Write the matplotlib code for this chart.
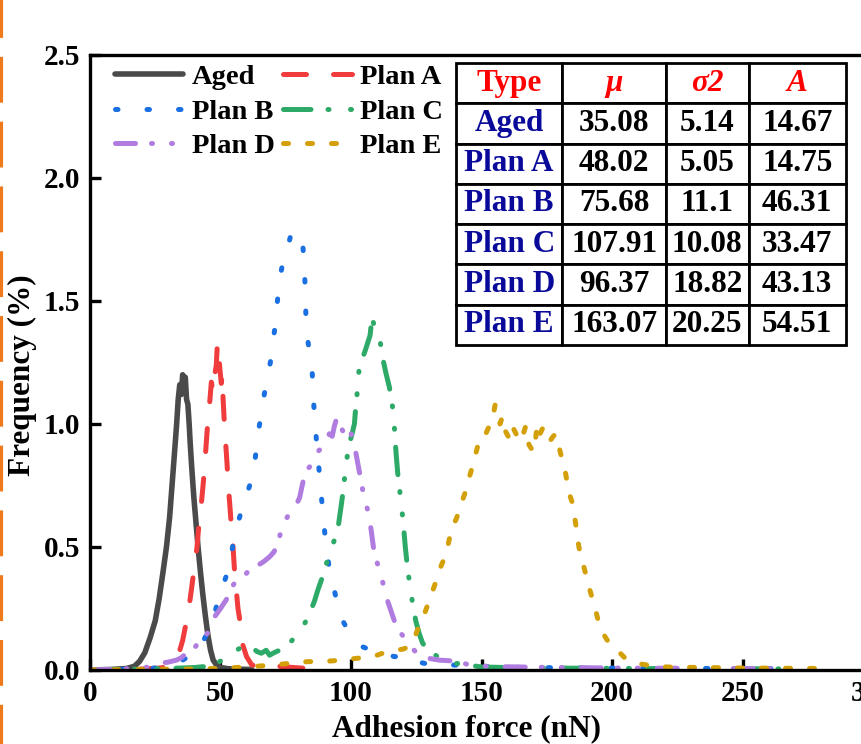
import numpy as np
import matplotlib
matplotlib.use("Agg")
import matplotlib.pyplot as plt
from matplotlib.lines import Line2D

plt.rcParams['font.family'] = ['Liberation Serif', 'DejaVu Serif']
plt.rcParams['font.weight'] = 'bold'
plt.rcParams['axes.labelweight'] = 'bold'

#------------------------------------------------------------------------------
# data (force in nN, frequency in %)
aged_x = [0, 8, 14, 17, 19, 21, 23, 25, 26.5, 28, 29.3, 30.5, 31.5, 32.5, 33.2, 33.8, 34.4, 35.0, 35.5, 36.0,
          36.5, 37.0, 37.5, 38.0, 38.4, 39.0, 39.8, 40.6, 41.4, 42.3, 43.2, 44.2, 45.2, 46.2, 47.2, 48.5, 50, 53, 57, 62]
aged_y = [0, 0.002, 0.006, 0.015, 0.035, 0.07, 0.13, 0.2, 0.29, 0.4, 0.5, 0.62, 0.76, 0.9, 1.0, 1.1, 1.16, 1.12, 1.2, 1.15,
          1.19, 1.1, 1.08, 1.0, 0.92, 0.82, 0.7, 0.6, 0.5, 0.4, 0.31, 0.22, 0.14, 0.08, 0.04, 0.02, 0.01, 0.005, 0.003, 0.002]

planA_x = [0, 10, 20, 27, 30, 32.5, 34.4, 35.5, 37, 38, 38.9, 40, 41, 41.8, 42.7, 43.4, 44, 44.6, 45.2, 45.8,
           46.5, 47.2, 47.8, 48.4, 48.8, 49.3, 49.8, 50.3, 50.7, 51, 51.5, 52, 52.5, 52.9, 53.5, 54.2, 54.8, 55.4, 56, 56.7,
           57.6, 58.6, 60, 62, 66, 72, 78, 85]
planA_y = [0, 0.002, 0.004, 0.008, 0.015, 0.03, 0.08, 0.12, 0.2, 0.26, 0.33, 0.42, 0.5, 0.6, 0.68, 0.76, 0.84, 0.93, 1.02, 1.08,
           1.17, 1.13, 1.2, 1.24, 1.33, 1.28, 1.22, 1.165, 1.2, 1.1, 1.0, 0.92, 0.84, 0.76, 0.68, 0.58, 0.5, 0.4, 0.33, 0.25,
           0.19, 0.1, 0.054, 0.02, 0.012, 0.015, 0.01, 0.005]

planB_x = [0, 10, 20, 25, 30, 34, 37, 40.8, 44, 47.1, 49.4, 51.5, 53.1, 54.8, 57, 59, 61.5, 63.1, 64.3, 65.6,
           66.3, 67.5, 69.1, 70.7, 72, 72.6, 74.5, 75.8, 77.1, 78.5, 80.3, 81.5, 82.2, 82.6, 82.8, 84.1, 85.1, 85.6, 86.3, 87.3,
           88.2, 89.2, 90.2, 91.7, 93.7, 95.8, 99.1, 104.2, 108, 111.5, 116.6, 121.7, 125, 128, 135, 144, 155, 170, 190, 210,
           230, 250, 270]
planB_y = [0, 0.002, 0.004, 0.008, 0.015, 0.03, 0.05, 0.07, 0.13, 0.2, 0.3, 0.36, 0.41, 0.51, 0.61, 0.68, 0.76, 0.84, 0.955, 1.04,
           1.09, 1.165, 1.25, 1.38, 1.52, 1.585, 1.69, 1.72, 1.775, 1.76, 1.77, 1.735, 1.62, 1.5, 1.39, 1.29, 1.22, 1.1, 0.99, 0.87,
           0.76, 0.64, 0.53, 0.41, 0.32, 0.22, 0.156, 0.095, 0.08, 0.075, 0.054, 0.06, 0.035, 0.027, 0.02, 0.02, 0.012, 0.01, 0.008, 0.007,
           0.006, 0.006, 0.005]

planC_x = [0, 10, 20, 30, 40, 45, 49.7, 53.5, 56, 58.6, 60.5, 62.4, 64, 65.6, 67.5, 68.8, 70.1, 71.5, 72.6, 74.5,
           76.5, 78.7, 80.9, 82.8, 84.7, 86, 87.3, 88.8, 90.5, 92, 93.7, 94.8, 95.6, 96.4, 97.2, 98.1, 99.4, 100.4, 101.3, 101.9,
           102.6, 103.2, 104.5, 105.5, 106.4, 107.3, 108.1, 108.8, 109.6, 110.9, 112.1, 113.4, 114.7, 115.9, 116.6, 117.2, 117.9, 119.1, 120, 120.8,
           121.7, 122.5, 123.4, 124.8, 126.1, 127.4, 129, 131.2, 133.8, 136.4, 140.2, 145, 150, 160, 175, 190, 210, 230, 250, 270]
planC_y = [0, 0.002, 0.004, 0.006, 0.01, 0.015, 0.034, 0.06, 0.08, 0.095, 0.09, 0.088, 0.075, 0.068, 0.08, 0.06, 0.068, 0.075, 0.08, 0.095,
           0.11, 0.135, 0.163, 0.2, 0.244, 0.28, 0.325, 0.37, 0.43, 0.48, 0.53, 0.56, 0.62, 0.68, 0.745, 0.84, 0.92, 0.96, 1.0, 1.08,
           1.15, 1.24, 1.27, 1.3, 1.33, 1.36, 1.436, 1.4, 1.38, 1.355, 1.27, 1.206, 1.15, 1.07, 0.99, 0.89, 0.8, 0.69, 0.6, 0.5,
           0.41, 0.35, 0.285, 0.2, 0.149, 0.11, 0.085, 0.068, 0.05, 0.04, 0.027, 0.02, 0.012, 0.01, 0.008, 0.007, 0.006, 0.005, 0.005, 0.004]

planD_x = [0, 10, 20.4, 26.8, 30, 33.1, 35, 37, 38.2, 40, 41.4, 42, 44, 46.5, 48, 50, 52.2, 54, 56.1, 57.5,
           59, 61.2, 63, 65, 66.5, 68.8, 70.5, 72, 73.9, 74.5, 76, 77.1, 78.5, 80.3, 81.5, 82.8, 84.5, 86, 87.9, 89.2,
           90.5, 91.7, 92.8, 93.6, 94.3, 94.9, 95.6, 96.5, 97.3, 98.1, 99, 100, 100.8, 101.9, 103.2, 104.5, 105.5, 106.4, 107.7, 108.9,
           110.2, 111.5, 113.4, 115, 116.6, 119.1, 122.3, 124.2, 126, 128.7, 130, 133.8, 137, 141.4, 145.3, 150, 154, 165, 180, 200,
           220, 240, 260, 275]
planD_y = [0, 0.003, 0.007, 0.027, 0.032, 0.04, 0.05, 0.068, 0.068, 0.09, 0.108, 0.1, 0.13, 0.18, 0.22, 0.25, 0.285, 0.33, 0.366, 0.36,
           0.38, 0.41, 0.4, 0.43, 0.44, 0.46, 0.48, 0.515, 0.596, 0.6, 0.63, 0.65, 0.66, 0.7, 0.76, 0.81, 0.83, 0.874, 0.894, 0.9,
           0.93, 0.96, 0.95, 0.99, 1.016, 1.023, 1.0, 0.98, 0.96, 0.976, 0.95, 0.962, 0.92, 0.88, 0.806, 0.73, 0.68, 0.65, 0.57, 0.474,
           0.43, 0.386, 0.3, 0.25, 0.2, 0.149, 0.108, 0.08, 0.06, 0.04, 0.047, 0.04, 0.038, 0.034, 0.02, 0.016, 0.014, 0.012, 0.01, 0.008,
           0.007, 0.006, 0.005, 0.005]

planE_x = [0, 20, 40, 51, 61.2, 70.1, 76.5, 83.4, 89.2, 96.2, 101.9, 108.3, 112.1, 117.2, 120, 122.3, 123.5, 125.5, 127, 128.7,
           130.2, 131.9, 133.2, 134.4, 136, 137, 138.9, 140.2, 141.5, 142.7, 143.7, 144.6, 145.5, 146.5, 147.2, 147.8, 148.8, 149.7, 151.2, 152.9,
           154.2, 155.2, 156.2, 157.1, 158, 159.2, 160.2, 161.2, 162.5, 163.7, 165, 166, 166.9, 168.2, 169.1, 170.1, 171.4, 172.4, 173.3, 174.5,
           175.5, 176.5, 177.5, 178.4, 179.4, 180.3, 181.3, 182.2, 183.5, 184.8, 186, 187.3, 189.2, 191.1, 193, 195, 196.5, 198.1, 201.3, 205.1,
           209.6, 216.6, 224.2, 235, 250, 265, 280]
planE_y = [0, 0.002, 0.004, 0.007, 0.013, 0.02, 0.027, 0.034, 0.034, 0.04, 0.047, 0.054, 0.068, 0.08, 0.085, 0.095, 0.108, 0.163, 0.2, 0.244,
           0.29, 0.34, 0.38, 0.42, 0.46, 0.5, 0.59, 0.61, 0.65, 0.69, 0.72, 0.76, 0.79, 0.826, 0.85, 0.88, 0.92, 0.948, 0.95, 0.99,
           1.02, 1.077, 1.04, 1.0, 1.03, 0.97, 0.95, 1.0, 0.976, 0.95, 0.928, 0.96, 0.99, 0.915, 0.9, 0.887, 1.0, 0.96, 0.98, 0.99,
           0.96, 0.935, 0.95, 0.96, 0.92, 0.88, 0.84, 0.8, 0.72, 0.68, 0.6, 0.5, 0.42, 0.34, 0.27, 0.19, 0.15, 0.122, 0.088, 0.047,
           0.027, 0.014, 0.011, 0.01, 0.008, 0.007, 0.006]

# table of fitted params
tab_head = ["Type", "\u03bc", "\u03c32", "A"]
tab_types = ["Aged", "Plan A", "Plan B", "Plan C", "Plan D", "Plan E"]
tab_mu = ["35.08", "48.02", "75.68", "107.91", "96.37", "163.07"]
tab_sigma2 = ["5.14", "5.05", "11.1", "10.08", "18.82", "20.25"]
tab_A = ["14.67", "14.75", "46.31", "33.47", "43.13", "54.51"]

#------------------------------------------------------------------------------
fig = plt.figure(figsize=(8.62, 7.44), dpi=100)
ax = fig.add_axes([0.1044, 0.0995, 0.9084, 0.8266])

lw = 3.6
ax.plot(aged_x, aged_y, color='#4a4a4a', lw=4.0, label='Aged', solid_capstyle='round')
ax.plot(planA_x, planA_y, color='#f03c3c', lw=lw, label='Plan A', linestyle=(0, (4.6, 5.4)), dash_capstyle='round')
ax.plot(planB_x, planB_y, color='#1a70e0', lw=lw, label='Plan B', linestyle=(0, (0.5, 5.8)), dash_capstyle='round')
ax.plot(planC_x, planC_y, color='#2eaa68', lw=lw, label='Plan C', linestyle=(0, (5.5, 3.4, 0.2, 4.3, 0.2, 3.6)), dash_capstyle='round')
ax.plot(planD_x, planD_y, color='#b07ce0', lw=lw, label='Plan D', linestyle=(0, (4, 3.2, 0.2, 3.8, 0.2, 3.8)), dash_capstyle='round')
ax.plot(planE_x, planE_y, color='#d4a00a', lw=lw, label='Plan E', linestyle=(0, (1, 3.8)), dash_capstyle='round')

ax.set_xlim(0, 300)
ax.set_ylim(0, 2.5)
ax.set_xticks([0, 50, 100, 150, 200, 250, 300])
ax.set_yticks([0, 0.5, 1.0, 1.5, 2.0, 2.5])
ax.yaxis.set_major_formatter(matplotlib.ticker.FormatStrFormatter('%.1f'))
ax.tick_params(direction='in', length=8, width=2.4, labelsize=21, pad=7)
for s in ax.spines.values():
    s.set_linewidth(2.4)

ax.set_xlabel("Adhesion force (nN)", fontsize=22.5)
ax.set_ylabel("Frequency (%)", fontsize=22.5)
ax.xaxis.set_label_coords(0.481, -0.072)
ax.yaxis.set_label_coords(-0.068, 0.48)

# legend filled row by row like the original
h, l = ax.get_legend_handles_labels()
order = [0, 2, 4, 1, 3, 5]
ax.legend([h[i] for i in order], [l[i] for i in order], ncol=2, frameon=False,
          loc='upper left', bbox_to_anchor=(0.032, 0.985), borderaxespad=0, borderpad=0,
          fontsize=20.5, handlelength=2.4, handletextpad=0.3, columnspacing=0.3, labelspacing=0.3)

# the table
cells = [tab_head] + [[tab_types[i], tab_mu[i], tab_sigma2[i], tab_A[i]] for i in range(len(tab_types))]
tb = ax.table(cellText=cells, cellLoc='center', colWidths=[107, 104, 83, 98],
              bbox=[0.4674, 0.5285, 0.4981, 0.4585], zorder=5)
tb.auto_set_font_size(False)
tb.set_fontsize(22.5)
for (r, c), cell in tb.get_celld().items():
    cell.set_linewidth(2)
    cell.set_edgecolor('black')
    cell.set_facecolor('white')
    if r == 0:
        cell.set_text_props(color='red', fontweight='bold', fontstyle='normal' if c == 0 else 'italic')
    elif c == 0:
        cell.set_text_props(color='#0a0a9a', fontweight='bold')
    else:
        cell.set_text_props(color='black', fontweight='bold')

# orange dashed marker on the left edge
fig.add_artist(Line2D([0.0017, 0.0017], [1, 0], transform=fig.transFigure, color='#ee7a1c',
                      lw=3, linestyle=(1.9, (11, 4.55))))

fig.savefig("out.png", dpi=100)
